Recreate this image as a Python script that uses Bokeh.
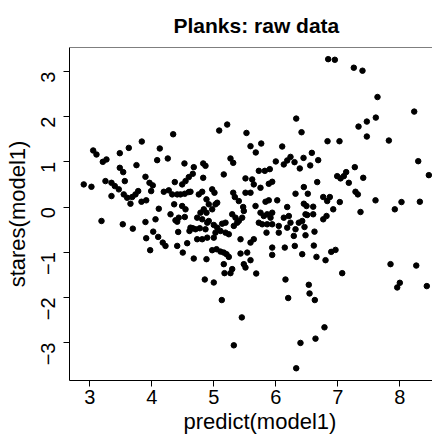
import math
from bokeh.plotting import figure
from bokeh.models import Range1d, FixedTicker, Span, Title
from bokeh.embed import file_html
from bokeh.resources import INLINE

title_text = "Planks: raw data"
x_label = "predict(model1)"
y_label = "stares(model1)"
x_ticks = [3, 4, 5, 6, 7, 8]
y_ticks = [-3, -2, -1, 0, 1, 2, 3]

predicted = [
    3.055, 3.108, 3.210, 3.269, 3.484, 3.629, 3.839, 3.484, 3.753, 4.087, 4.129, 4.258, 4.345, 4.527,
    4.677, 4.829, 4.866, 5.087, 5.216, 5.269, 5.313,
    6.845, 6.952, 7.258, 7.398, 7.640, 8.232, 6.329, 5.527, 6.415, 7.334, 7.468, 7.613, 7.468, 6.834,
    7.027, 7.823, 5.592, 5.765, 5.677, 6.103, 8.297, 6.000, 6.129, 6.184, 6.237, 6.302, 6.447, 6.581,
    6.684, 6.555, 6.387, 5.726, 5.823, 5.903, 7.274,
    2.903, 3.027, 3.253, 3.350, 3.403, 3.539, 3.565, 3.468, 3.548, 3.603, 3.350, 3.656, 3.684, 3.737,
    3.781, 3.898, 3.963, 4.016, 3.990, 3.834, 3.910, 4.194, 4.274, 4.371, 4.329, 4.410, 4.463, 4.532,
    4.597, 4.490, 4.544, 4.597, 4.661, 4.113, 4.361, 4.490, 4.544, 4.302, 4.382, 4.435, 4.410, 4.532,
    3.189, 3.532, 3.694, 3.898, 4.060, 4.023, 4.103, 4.177, 4.221, 3.910, 3.974, 4.426, 4.608, 4.661,
    4.410, 4.571, 4.500, 4.677,
    4.829, 5.161, 5.511, 5.619, 5.645, 5.753, 5.887, 5.942, 6.452, 4.624, 4.758, 4.813, 4.974, 5.011,
    5.313, 5.339, 5.403, 5.511, 5.592, 6.318, 4.882, 4.919, 5.027, 5.055, 4.839, 4.785, 4.882, 4.974,
    4.813, 4.894, 4.919, 4.732, 4.624, 4.705, 4.774, 4.866, 5.000, 5.055, 5.135, 5.189, 5.108, 5.189,
    5.242, 5.027, 5.000, 4.732, 4.813, 4.894, 5.297, 5.350, 5.403, 5.458, 5.377, 5.323, 5.474, 5.484,
    5.673, 5.834, 5.887, 6.023, 6.184, 5.753, 5.806, 5.861, 5.915, 5.942, 5.726, 5.781, 5.861, 5.942,
    6.129, 6.210, 6.237, 6.371, 6.426, 6.479, 6.048, 6.184, 6.318, 5.850, 6.048, 6.290, 5.431, 5.592,
    5.645, 5.942, 6.145, 6.306, 6.426, 5.942, 4.974, 5.044, 5.108, 5.161, 5.205, 5.242, 5.431, 5.539,
    4.882, 5.592, 5.484, 5.511, 5.297, 5.161,
    6.990, 7.044, 7.097, 7.135, 7.410, 7.177, 6.668, 8.468, 6.516, 6.765, 6.829, 6.871, 7.032, 7.285,
    7.323, 7.608, 8.027, 8.323, 6.452, 6.495, 6.603, 6.926, 7.366, 7.919, 6.506, 6.603, 6.765, 6.818,
    6.463, 6.624, 6.479, 6.613, 6.894, 6.963, 6.656, 6.802, 7.850, 8.265,
    4.855, 5.000, 5.173, 5.269, 5.129, 5.452, 5.323, 6.156, 6.532, 6.544, 6.629, 6.200, 6.785, 6.640,
    6.398, 6.329, 7.958, 8.000, 7.071, 5.684, 8.435,
]

residuals = [
    1.252, 1.163, 1.000, 1.053, 1.192, 1.309, 1.450, 0.868, 0.927, 1.038, 1.296, 1.075, 1.611, 0.965,
    0.883, 0.965, 0.912, 1.693, 1.826, 1.075, 0.978,
    3.274, 3.260, 3.084, 3.018, 2.435, 2.113, 1.958, 1.640, 1.656, 1.781, 1.892, 1.980, 1.561, 1.457,
    1.457, 1.472, 1.347, 1.406, 1.208, 1.340, 1.015, 1.009, 0.943, 1.031, 1.110, 0.993, 1.088, 1.199,
    1.038, 0.921, 0.854, 0.801, 0.801, 0.839, 0.883,
    0.501, 0.448, 0.574, 0.536, 0.464, 0.773, 0.574, 0.391, 0.280, 0.205, 0.243, 0.073, 0.221, 0.280,
    0.353, 0.669, 0.536, 0.479, 0.353, 0.117, 0.148, 0.338, 0.369, 0.552, 0.280, 0.280, 0.280, 0.294,
    0.331, 0.501, 0.574, 0.662, 0.735, -0.038, 0.060, 0.022, -0.051, -0.161, -0.294, -0.236, -0.325, -0.221,
    -0.309, -0.382, -0.479, -0.331, -0.272, -0.545, -0.662, -0.788, -0.861, -0.691, -0.956, -0.552, -0.530, -0.470,
    -0.861, -0.801, -1.009, -1.141,
    0.647, 0.722, 0.634, 0.611, 0.501, 0.426, 0.514, 0.559, 0.442, 0.338, 0.280, 0.338, 0.391, 0.316,
    0.316, 0.221, 0.132, 0.316, 0.316, 0.294, 0.170, 0.060, 0.060, 0.095, -0.051, -0.126, -0.126, -0.051,
    -0.272, -0.347, -0.309, -0.236, -0.457, -0.492, -0.470, -0.492, -0.397, -0.457, -0.369, -0.347, -0.530, -0.567,
    -0.603, -0.567, -0.678, -0.713, -0.713, -0.678, -0.161, -0.236, -0.309, -0.236, -0.347, -0.419, 0.000, -0.088,
    0.022, 0.117, 0.148, 0.148, 0.000, -0.126, -0.199, -0.161, -0.236, -0.126, -0.347, -0.382, -0.382, -0.382,
    -0.236, -0.199, -0.347, -0.347, -0.309, -0.161, -0.419, -0.457, -0.492, -0.567, -0.567, -0.640, -0.713, -0.788,
    -0.713, -0.898, -0.898, -0.861, -1.044, -1.060, -0.956, -0.934, -0.987, -1.009, -1.044, -1.104, -1.031, -1.009,
    -1.155, -1.177, -1.265, -1.340, -1.375, -1.265,
    0.684, 0.634, 0.684, 0.773, 0.647, 0.536, 0.552, 0.706, 0.294, 0.221, 0.132, 0.221, 0.110, 0.338,
    0.280, 0.148, 0.110, 0.117, 0.073, 0.022, 0.007, -0.051, -0.110, -0.051, -0.177, -0.161, -0.272, -0.199,
    -0.442, -0.545, -0.625, -0.854, -0.993, -0.949, -1.104, -1.177, -1.265, -1.296,
    -1.605, -1.671, -1.464, -1.464, -2.060, -2.444, -3.062, -1.605, -1.722, -1.914, -2.060, -2.015, -2.664, -2.914,
    -3.009, -3.570, -1.781, -1.678, -1.464, -1.472, -1.751,
]

FONT = "Liberation Sans"
x_min, x_max = 2.673, 8.527
y_min, y_max = -3.841, 3.532

p = figure(width=432, height=439, output_backend="svg", toolbar_location=None,
           x_range=Range1d(x_min, x_max), y_range=Range1d(y_min, y_max),
           min_border_left=69, min_border_right=0, min_border_top=46, min_border_bottom=59)

p.outline_line_color = None
p.background_fill_color = "white"
p.border_fill_color = "white"
p.xgrid.visible = False
p.ygrid.visible = False

# R's plot region is wider than the cropped picture, so centre texts by offset
p.title.text = title_text
p.title.align = "left"
p.title.offset = 104
p.title.standoff = 22
p.title.text_font = FONT
p.title.text_font_size = "21px"
p.title.text_font_style = "bold"
p.title.text_color = "black"

xlab = Title(text=x_label, align="left", offset=114, standoff=0,
             text_font=FONT, text_font_size="22px", text_font_style="normal",
             text_color="black")
p.add_layout(xlab, "below")

for ax in (p.xaxis[0], p.yaxis[0]):
    ax.axis_line_color = "black"
    ax.axis_line_width = 1
    ax.major_tick_line_color = "black"
    ax.major_tick_out = 6
    ax.major_tick_in = 0
    ax.minor_tick_line_color = None
    ax.major_label_text_font = FONT
    ax.major_label_text_font_size = "20px"
    ax.major_label_text_color = "black"
    ax.axis_label_text_font = FONT
    ax.axis_label_text_font_size = "22px"
    ax.axis_label_text_font_style = "normal"
    ax.axis_label_text_color = "black"

p.xaxis.ticker = FixedTicker(ticks=x_ticks)
p.yaxis.ticker = FixedTicker(ticks=y_ticks)
p.yaxis.axis_label = y_label
p.yaxis.major_label_orientation = math.pi / 2
p.xaxis.major_label_standoff = 3
p.yaxis.major_label_standoff = 15
p.yaxis.axis_label_standoff = 2

top_border = Span(location=y_max, dimension="width", line_color="black", line_width=1)
p.add_layout(top_border)

p.scatter(predicted, residuals, size=5.5, fill_color="black", line_color="black")

open("out.html", "w").write(file_html(p, INLINE))
